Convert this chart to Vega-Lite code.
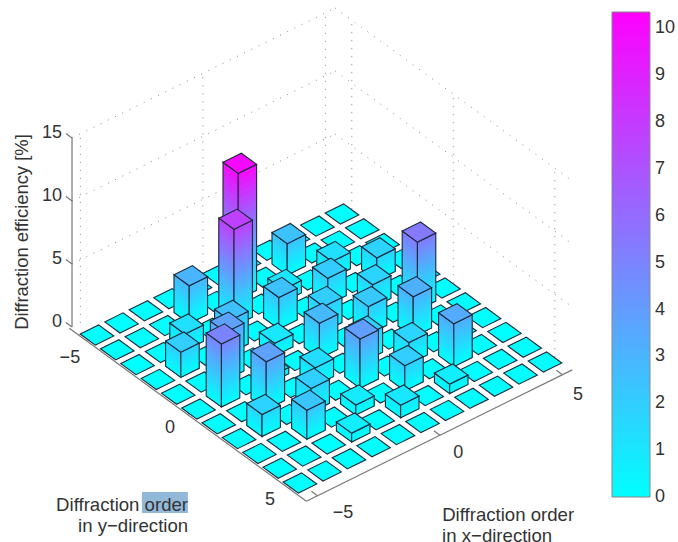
{"$schema":"https://vega.github.io/schema/vega-lite/v6.json","width":678,"height":542,"autosize":"none","padding":0,"background":"white","config":{"view":{"stroke":null}},
"datasets":{
"bars":[
{"x":5,"y":-5,"z":0},{"x":5,"y":-4,"z":0},{"x":5,"y":-3,"z":0},{"x":5,"y":-2,"z":0},{"x":5,"y":-1,"z":0},{"x":5,"y":0,"z":0},{"x":5,"y":1,"z":0},{"x":5,"y":2,"z":0},{"x":5,"y":3,"z":0},{"x":5,"y":4,"z":0},{"x":5,"y":5,"z":0},
{"x":4,"y":-5,"z":0},{"x":4,"y":-4,"z":0},{"x":4,"y":-3,"z":0},{"x":4,"y":-2,"z":1.8},{"x":4,"y":-1,"z":0},{"x":4,"y":0,"z":5.4},{"x":4,"y":1,"z":0},{"x":4,"y":2,"z":0},{"x":4,"y":3,"z":0},{"x":4,"y":4,"z":0},{"x":4,"y":5,"z":0},
{"x":3,"y":-5,"z":0},{"x":3,"y":-4,"z":0},{"x":3,"y":-3,"z":1.3},{"x":3,"y":-2,"z":0},{"x":3,"y":-1,"z":1.8},{"x":3,"y":0,"z":0},{"x":3,"y":1,"z":3.2},{"x":3,"y":2,"z":0},{"x":3,"y":3,"z":3.4},{"x":3,"y":4,"z":0},{"x":3,"y":5,"z":0},
{"x":2,"y":-5,"z":0},{"x":2,"y":-4,"z":2.5},{"x":2,"y":-3,"z":0},{"x":2,"y":-2,"z":2.1},{"x":2,"y":-1,"z":0},{"x":2,"y":0,"z":2.2},{"x":2,"y":1,"z":0},{"x":2,"y":2,"z":1.7},{"x":2,"y":3,"z":0},{"x":2,"y":4,"z":0.75},{"x":2,"y":5,"z":0},
{"x":1,"y":-5,"z":0},{"x":1,"y":-4,"z":0},{"x":1,"y":-3,"z":1},{"x":1,"y":-2,"z":0},{"x":1,"y":-1,"z":2},{"x":1,"y":0,"z":0},{"x":1,"y":1,"z":2},{"x":1,"y":2,"z":0},{"x":1,"y":3,"z":2},{"x":1,"y":4,"z":0},{"x":1,"y":5,"z":0},
{"x":0,"y":-5,"z":0},{"x":0,"y":-4,"z":10},{"x":0,"y":-3,"z":0},{"x":0,"y":-2,"z":2.5},{"x":0,"y":-1,"z":0},{"x":0,"y":0,"z":2.8},{"x":0,"y":1,"z":0},{"x":0,"y":2,"z":3.9},{"x":0,"y":3,"z":0},{"x":0,"y":4,"z":1},{"x":0,"y":5,"z":0},
{"x":-1,"y":-5,"z":0},{"x":-1,"y":-4,"z":0},{"x":-1,"y":-3,"z":7.7},{"x":-1,"y":-2,"z":0},{"x":-1,"y":-1,"z":1},{"x":-1,"y":0,"z":0},{"x":-1,"y":1,"z":1.4},{"x":-1,"y":2,"z":0},{"x":-1,"y":3,"z":0.8},{"x":-1,"y":4,"z":0},{"x":-1,"y":5,"z":0},
{"x":-2,"y":-5,"z":0},{"x":-2,"y":-4,"z":3},{"x":-2,"y":-3,"z":0},{"x":-2,"y":-2,"z":2.6},{"x":-2,"y":-1,"z":0},{"x":-2,"y":0,"z":0.5},{"x":-2,"y":1,"z":0},{"x":-2,"y":2,"z":1.9},{"x":-2,"y":3,"z":0},{"x":-2,"y":4,"z":0.7},{"x":-2,"y":5,"z":0},
{"x":-3,"y":-5,"z":0},{"x":-3,"y":-4,"z":0},{"x":-3,"y":-3,"z":1.3},{"x":-3,"y":-2,"z":0},{"x":-3,"y":-1,"z":3.8},{"x":-3,"y":0,"z":0},{"x":-3,"y":1,"z":3.8},{"x":-3,"y":2,"z":0},{"x":-3,"y":3,"z":2.3},{"x":-3,"y":4,"z":0},{"x":-3,"y":5,"z":0},
{"x":-4,"y":-5,"z":0},{"x":-4,"y":-4,"z":0},{"x":-4,"y":-3,"z":0},{"x":-4,"y":-2,"z":2},{"x":-4,"y":-1,"z":0},{"x":-4,"y":0,"z":5},{"x":-4,"y":1,"z":0},{"x":-4,"y":2,"z":1.75},{"x":-4,"y":3,"z":0},{"x":-4,"y":4,"z":0},{"x":-4,"y":5,"z":0},
{"x":-5,"y":-5,"z":0},{"x":-5,"y":-4,"z":0},{"x":-5,"y":-3,"z":0},{"x":-5,"y":-2,"z":0},{"x":-5,"y":-1,"z":0},{"x":-5,"y":0,"z":0},{"x":-5,"y":1,"z":0},{"x":-5,"y":2,"z":0},{"x":-5,"y":3,"z":0},{"x":-5,"y":4,"z":0},{"x":-5,"y":5,"z":0}
],
"dotted":[
{"id":"a1","gx":-5,"gy":-5.82,"gz":0},{"id":"a1","gx":-5,"gy":-5.82,"gz":15},
{"id":"a2","gx":0,"gy":-5.82,"gz":0},{"id":"a2","gx":0,"gy":-5.82,"gz":15},
{"id":"a3","gx":5,"gy":-5.82,"gz":0},{"id":"a3","gx":5,"gy":-5.82,"gz":15},
{"id":"b1","gx":-5.34,"gy":-5.82,"gz":5},{"id":"b1","gx":5.4,"gy":-5.82,"gz":5},
{"id":"b2","gx":-5.34,"gy":-5.82,"gz":10},{"id":"b2","gx":5.4,"gy":-5.82,"gz":10},
{"id":"b3","gx":-5.34,"gy":-5.82,"gz":15},{"id":"b3","gx":5.4,"gy":-5.82,"gz":15},
{"id":"c1","gx":5.4,"gy":-5,"gz":0},{"id":"c1","gx":5.4,"gy":-5,"gz":15},
{"id":"c2","gx":5.4,"gy":0,"gz":0},{"id":"c2","gx":5.4,"gy":0,"gz":15},
{"id":"c3","gx":5.4,"gy":5,"gz":0},{"id":"c3","gx":5.4,"gy":5,"gz":15},
{"id":"d1","gx":5.4,"gy":-5.82,"gz":5},{"id":"d1","gx":5.4,"gy":5.86,"gz":5},
{"id":"d2","gx":5.4,"gy":-5.82,"gz":10},{"id":"d2","gx":5.4,"gy":5.86,"gz":10},
{"id":"d3","gx":5.4,"gy":-5.82,"gz":15},{"id":"d3","gx":5.4,"gy":5.86,"gz":15}
],
"solid":[
{"id":"zaxis","gx":-5.34,"gy":-5.82,"gz":0},{"id":"zaxis","gx":-5.34,"gy":-5.82,"gz":15},
{"id":"yaxis","gx":-5.45,"gy":-5.82,"gz":0},{"id":"yaxis","gx":-5.45,"gy":5.86,"gz":0},
{"id":"xaxis","gx":-5.45,"gy":5.86,"gz":0},{"id":"xaxis","gx":5.4,"gy":5.86,"gz":0},
{"id":"tx1","gx":-5,"gy":5.86,"gz":0},{"id":"tx1","gx":-5,"gy":5.56,"gz":0},
{"id":"tx2","gx":0,"gy":5.86,"gz":0},{"id":"tx2","gx":0,"gy":5.56,"gz":0},
{"id":"tx3","gx":5,"gy":5.86,"gz":0},{"id":"tx3","gx":5,"gy":5.56,"gz":0},
{"id":"ty1","gx":-5.45,"gy":-5,"gz":0},{"id":"ty1","gx":-5.15,"gy":-5,"gz":0},
{"id":"ty2","gx":-5.45,"gy":0,"gz":0},{"id":"ty2","gx":-5.15,"gy":0,"gz":0},
{"id":"ty3","gx":-5.45,"gy":5,"gz":0},{"id":"ty3","gx":-5.15,"gy":5,"gz":0},
{"id":"tz0","gx":-5.34,"gy":-5.82,"gz":0},{"id":"tz0","gx":-5.34,"gy":-6.12,"gz":0},
{"id":"tz1","gx":-5.34,"gy":-5.82,"gz":5},{"id":"tz1","gx":-5.34,"gy":-6.12,"gz":5},
{"id":"tz2","gx":-5.34,"gy":-5.82,"gz":10},{"id":"tz2","gx":-5.34,"gy":-6.12,"gz":10},
{"id":"tz3","gx":-5.34,"gy":-5.82,"gz":15},{"id":"tz3","gx":-5.34,"gy":-6.12,"gz":15}
],
"ticklabels":[
{"t":"−5","gx":-4.96,"gy":7.07,"gz":0},{"t":"0","gx":-0.15,"gy":6.94,"gz":0},{"t":"5","gx":4.7,"gy":6.99,"gz":0},
{"t":"−5","gx":-6.43,"gy":-4.61,"gz":0},{"t":"0","gx":-6.33,"gy":0.2,"gz":0},{"t":"5","gx":-6.3,"gy":5.09,"gz":0}
],
"zlabels":[
{"t":"0","gx":-5.42,"gy":-6.22,"gz":0},{"t":"5","gx":-5.42,"gy":-6.22,"gz":5},{"t":"10","gx":-5.42,"gy":-6.22,"gz":10},{"t":"15","gx":-5.42,"gy":-6.22,"gz":15}
],
"rtitles":[
{"t":"Diffraction order","gx":-8.46,"gy":3.66,"gz":0},{"t":"in y−direction","gx":-9.16,"gy":4.51,"gz":0}
],
"ltitles":[
{"t":"Diffraction order","gx":-2.61,"gy":9.12,"gz":0},{"t":"in x−direction","gx":-3.31,"gy":9.96,"gz":0}
],
"ztitle":[{"t":"Diffraction efficiency [%]","gx":-3.39,"gy":-10.64,"gz":0}],
"hilite":[{"gx":-9.15,"gy":2.22,"gz":0,"hx":-8.73,"hy":3.98}],
"cbticks":[{"v":0},{"v":1},{"v":2},{"v":3},{"v":4},{"v":5},{"v":6},{"v":7},{"v":8},{"v":9},{"v":10}]
},
"layer":[
{"data":{"name":"hilite"},"mark":{"type":"rect","fill":"#93b9d9"},
 "transform":[{"calculate":"321+24.5*datum.gx+20.3*datum.gy","as":"sx"},{"calculate":"348.5-12.1*datum.gx+14.8*datum.gy","as":"sy"},{"calculate":"321+24.5*datum.hx+20.3*datum.hy","as":"sx2"},{"calculate":"348.5-12.1*datum.hx+14.8*datum.hy","as":"sy2"}],
 "encoding":{"x":{"field":"sx","type":"quantitative","scale":{"domain":[0,678],"nice":false,"zero":false},"axis":null},"x2":{"field":"sx2"},"y":{"field":"sy","type":"quantitative","scale":{"domain":[542,0],"nice":false,"zero":false},"axis":null},"y2":{"field":"sy2"}}},
{"data":{"name":"dotted"},"mark":{"type":"line","stroke":"#8a8a8a","strokeWidth":1,"strokeDash":[1,7]},
 "transform":[{"calculate":"321+24.5*datum.gx+20.3*datum.gy","as":"sx"},{"calculate":"348.5-12.1*datum.gx+14.8*datum.gy-12.6*datum.gz","as":"sy"}],
 "encoding":{"x":{"field":"sx","type":"quantitative","axis":null},"y":{"field":"sy","type":"quantitative","axis":null},"detail":{"field":"id"}}},
{"data":{"name":"solid"},"mark":{"type":"line","stroke":"#777777","strokeWidth":1.2},
 "transform":[{"calculate":"321+24.5*datum.gx+20.3*datum.gy","as":"sx"},{"calculate":"348.5-12.1*datum.gx+14.8*datum.gy-12.6*datum.gz","as":"sy"}],
 "encoding":{"x":{"field":"sx","type":"quantitative","axis":null},"y":{"field":"sy","type":"quantitative","axis":null},"detail":{"field":"id"}}},
{"data":{"name":"bars"},"mark":{"type":"area","strokeWidth":1.1,"interpolate":"linear"},
 "transform":[
  {"calculate":"['L','R','T']","as":"faces"},{"flatten":["faces"],"as":["face"]},
  {"filter":"datum.face=='T'||datum.z>0"},
  {"calculate":"datum.face=='T'?[2]:[1,0.95,0.9,0.85,0.8,0.75,0.7,0.65,0.6,0.55,0.5,0.45,0.4,0.35,0.3,0.25,0.2,0.15,0.1,0.05,0]","as":"frs"},{"flatten":["frs"],"as":["fr"]},
  {"calculate":"(datum.face=='T'||datum.fr==0)?datum.z:datum.fr*datum.z","as":"zt"},
  {"calculate":"(datum.face=='T'||datum.fr==0)?datum.z:(datum.fr-0.025)*datum.z","as":"cv"},
  {"calculate":"datum.x+'_'+datum.y+'_'+datum.face+'_'+datum.fr","as":"key"},
  {"calculate":"datum.face=='T'?[0,1,2,3]:[0,1]","as":"vs"},{"flatten":["vs"],"as":["v"]},
  {"calculate":"datum.face=='T'?[-16.8,-1.575,1.575,16.8][datum.v]:(datum.face=='L'?[-16.8,-1.575][datum.v]:[-1.575,16.8][datum.v])","as":"dx"},
  {"calculate":"datum.face=='T'?[-1.01,-8.53,-10.09,1.01][datum.v]:(datum.face=='L'?[-1.01,10.09][datum.v]:[10.09,1.01][datum.v])","as":"up"},
  {"calculate":"datum.face=='T'?[-1.01,10.09,8.53,1.01][datum.v]:datum.up","as":"lo"},
  {"calculate":"321+24.5*datum.x+20.3*datum.y+datum.dx","as":"sx"},
  {"calculate":"348.5-12.1*datum.x+14.8*datum.y","as":"s0"},
  {"calculate":"datum.s0-12.6*datum.zt+datum.up","as":"yt"},
  {"calculate":"datum.face=='T'?datum.s0-12.6*datum.zt+datum.lo:datum.s0+datum.lo","as":"yb"}
 ],
 "encoding":{
  "x":{"field":"sx","type":"quantitative","axis":null},
  "y":{"field":"yt","type":"quantitative","axis":null},
  "y2":{"field":"yb"},
  "detail":{"field":"key"},
  "color":{"field":"cv","type":"quantitative","scale":{"domain":[0,10.35],"range":["#00ffff","#ff00ff"],"interpolate":"rgb","nice":false,"zero":false},
   "legend":{"orient":"none","legendX":612,"legendY":12,"title":null,"direction":"vertical","gradientLength":485,"gradientThickness":38,"values":[0,1,2,3,4,5,6,7,8,9,10],"labelFontSize":18,"labelFont":"Liberation Sans","labelColor":"#333333","labelOffset":5,"gradientStrokeColor":"#888888","gradientStrokeWidth":1,"labelOverlap":false,"encode":{"labels":{"update":{"baseline":{"value":"middle"}}}}}},
  "stroke":{"condition":{"test":"datum.face=='T'||datum.fr==0","value":"#1b2a38"},"value":"transparent"},
  "fillOpacity":{"condition":{"test":"datum.fr==0","value":0},"value":1}
 }},
{"data":{"name":"ticklabels"},"mark":{"type":"text","font":"Liberation Sans","fontSize":18,"fill":"#333333","align":"center","baseline":"middle"},
 "transform":[{"calculate":"321+24.5*datum.gx+20.3*datum.gy","as":"sx"},{"calculate":"348.5-12.1*datum.gx+14.8*datum.gy-12.6*datum.gz","as":"sy"}],
 "encoding":{"x":{"field":"sx","type":"quantitative","axis":null},"y":{"field":"sy","type":"quantitative","axis":null},"text":{"field":"t"}}},
{"data":{"name":"zlabels"},"mark":{"type":"text","font":"Liberation Sans","fontSize":18,"fill":"#333333","align":"right","baseline":"middle"},
 "transform":[{"calculate":"321+24.5*datum.gx+20.3*datum.gy","as":"sx"},{"calculate":"348.5-12.1*datum.gx+14.8*datum.gy-12.6*datum.gz","as":"sy"}],
 "encoding":{"x":{"field":"sx","type":"quantitative","axis":null},"y":{"field":"sy","type":"quantitative","axis":null},"text":{"field":"t"}}},
{"data":{"name":"rtitles"},"mark":{"type":"text","font":"Liberation Sans","fontSize":18.6,"fill":"#333333","align":"right","baseline":"middle"},
 "transform":[{"calculate":"321+24.5*datum.gx+20.3*datum.gy","as":"sx"},{"calculate":"348.5-12.1*datum.gx+14.8*datum.gy-12.6*datum.gz","as":"sy"}],
 "encoding":{"x":{"field":"sx","type":"quantitative","axis":null},"y":{"field":"sy","type":"quantitative","axis":null},"text":{"field":"t"}}},
{"data":{"name":"ltitles"},"mark":{"type":"text","font":"Liberation Sans","fontSize":18.6,"fill":"#333333","align":"left","baseline":"middle"},
 "transform":[{"calculate":"321+24.5*datum.gx+20.3*datum.gy","as":"sx"},{"calculate":"348.5-12.1*datum.gx+14.8*datum.gy-12.6*datum.gz","as":"sy"}],
 "encoding":{"x":{"field":"sx","type":"quantitative","axis":null},"y":{"field":"sy","type":"quantitative","axis":null},"text":{"field":"t"}}},
{"data":{"name":"ztitle"},"mark":{"type":"text","font":"Liberation Sans","fontSize":18.4,"fill":"#333333","align":"center","baseline":"middle","angle":270},
 "transform":[{"calculate":"321+24.5*datum.gx+20.3*datum.gy","as":"sx"},{"calculate":"348.5-12.1*datum.gx+14.8*datum.gy-12.6*datum.gz","as":"sy"}],
 "encoding":{"x":{"field":"sx","type":"quantitative","axis":null},"y":{"field":"sy","type":"quantitative","axis":null},"text":{"field":"t"}}},
{"data":{"name":"cbticks"},"mark":{"type":"rule","stroke":"#000000","strokeOpacity":0.45,"strokeWidth":1.2},
 "transform":[{"calculate":"[612,645]","as":"ss"},{"flatten":["ss"],"as":["s"]},{"calculate":"datum.s+5","as":"s2"},{"calculate":"496.5-46.85*datum.v","as":"sy"}],
 "encoding":{"x":{"field":"s","type":"quantitative","axis":null},"x2":{"field":"s2"},"y":{"field":"sy","type":"quantitative","axis":null}}}
]}
